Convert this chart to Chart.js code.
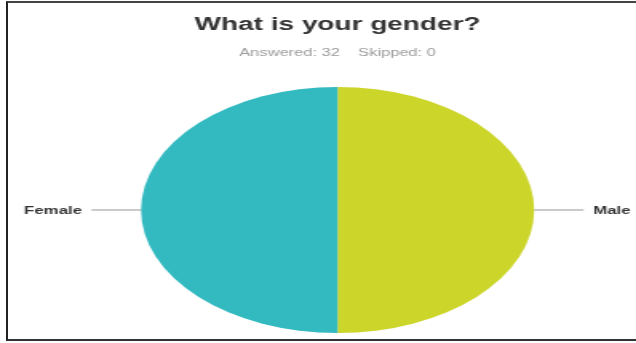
<!DOCTYPE html>
<html lang="en">
<head>
    <meta charset="UTF-8">
    <title>What is your gender?</title>
    <style>
        body { margin: 0; background: #fff; width: 636px; height: 343px; overflow: hidden; position: relative; }
        #frame {
            position: absolute; left: 6px; top: 1px; width: 640px; height: 336px;
            border-left: 2px solid #222; border-top: 2px solid #444; border-bottom: 2px solid #333;
        }
        /* the survey export is stretched sideways, so the chart is drawn narrow and widened */
        #chartBox {
            position: absolute; left: 0; top: 0; width: 398px; height: 343px;
            transform: scaleX(1.598); transform-origin: 0 0;
        }
    </style>
</head>
<body>
    <div id="frame"></div>
    <div id="chartBox"><canvas id="genderChart"></canvas></div>

    <script src="https://cdn.jsdelivr.net/npm/chart.js"></script>
    <script>
        const answers = ['Male', 'Female'];
        const responses = [16, 16];
        const skipped = 0;
        const sliceColors = ['#ccd52a', '#33b9c0'];

        const answered = responses.reduce((a, b) => a + b, 0);

        // leader line + label beside each slice
        const sideLabels = {
            id: 'sideLabels',
            afterDatasetsDraw(chart) {
                const ctx = chart.ctx;
                const arcs = chart.getDatasetMeta(0).data;
                ctx.save();
                ctx.font = 'bold 10.5px "Liberation Sans", Arial, sans-serif';
                ctx.textBaseline = 'middle';
                arcs.forEach((arc, i) => {
                    const mid = (arc.startAngle + arc.endAngle) / 2;
                    const dir = Math.cos(mid) >= 0 ? 1 : -1;
                    const ex = arc.x + Math.cos(mid) * arc.outerRadius;
                    const ey = arc.y + Math.sin(mid) * arc.outerRadius;
                    ctx.strokeStyle = '#b4b4b4';
                    ctx.lineWidth = 1.4;
                    ctx.beginPath();
                    ctx.moveTo(ex, ey);
                    ctx.lineTo(ex + dir * 31, ey);
                    ctx.stroke();
                    ctx.fillStyle = '#333';
                    ctx.textAlign = dir > 0 ? 'left' : 'right';
                    ctx.fillText(chart.data.labels[i], ex + dir * 37, ey + 1);
                });
                ctx.restore();
            }
        };

        new Chart(document.getElementById('genderChart'), {
            type: 'pie',
            data: {
                labels: answers,
                datasets: [{
                    data: responses,
                    backgroundColor: sliceColors,
                    borderWidth: 0
                }]
            },
            options: {
                responsive: true,
                maintainAspectRatio: false,
                animation: false,
                layout: { padding: { left: 24.5, right: 0, top: 0, bottom: 10 } },
                plugins: {
                    legend: { display: false },
                    tooltip: { enabled: false },
                    title: {
                        display: true,
                        text: 'What is your gender?',
                        color: '#333',
                        font: { family: '"Liberation Sans", Arial, sans-serif', size: 17.5, weight: 'bold' },
                        padding: { top: 15, bottom: 0 }
                    },
                    subtitle: {
                        display: true,
                        text: 'Answered: ' + answered + '    Skipped: ' + skipped,
                        color: '#9a9a9a',
                        font: { family: '"Liberation Sans", Arial, sans-serif', size: 10.3 },
                        padding: { top: 10.8, bottom: 27.8 }
                    }
                }
            },
            plugins: [sideLabels]
        });
    </script>
</body>
</html>
